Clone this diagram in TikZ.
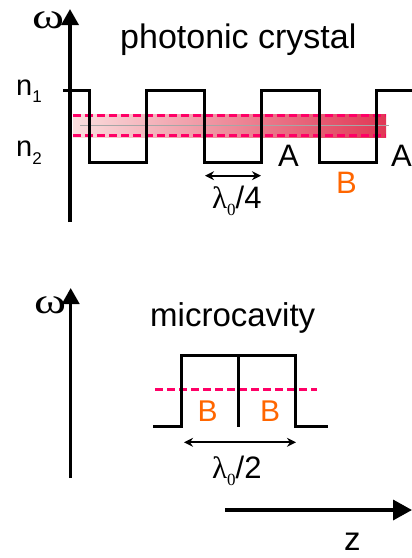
\documentclass[tikz,border=0pt]{standalone}
\usepackage{fontspec}
\setmainfont{Liberation Sans}
\newfontfamily\grk{Liberation Serif}
\usetikzlibrary{arrows.meta}
\definecolor{pinkdash}{RGB}{255,0,102}
\definecolor{bor}{RGB}{255,102,0}
\definecolor{bandL}{RGB}{250,222,222}
\definecolor{bandR}{RGB}{225,55,85}
\tikzset{
 lbl/.style={inner sep=0pt, anchor=base west},
 big/.style={font=\fontsize{34}{40}\selectfont},
 mid/.style={font=\fontsize{31}{36}\selectfont},
 omg/.style={font=\grk\fontsize{36}{40}\selectfont},
 axisline/.style={line width=3.5pt, -{Triangle[length=16pt,width=17pt]}},
 wave/.style={line width=3pt},
 level/.style={pinkdash, line width=3pt, dash pattern=on 8pt off 4pt},
 dimline/.style={line width=2pt, {Stealth[length=9pt,width=9pt]}-{Stealth[length=9pt,width=9pt]}},
}
\newcommand{\sub}[2]{\raisebox{#1}{\fontsize{17}{20}\selectfont #2}}
\newcommand{\wideomega}{\scalebox{1.35}[1]{ω}}
\begin{document}
\begin{tikzpicture}[x=1pt,y=-1pt]
\useasboundingbox (0,0) rectangle (412,558);
% ---------- top panel ----------
\coordinate (ta0) at (70,222);
\coordinate (ta1) at (70,9);
\draw[axisline] (ta0) -- (ta1);
\node[lbl, omg] (om1) at (32,28) {\wideomega};
\node[lbl, big] (t1) at (120,48.3) {photonic crystal};
\node[lbl, font=\fontsize{29}{34}\selectfont] (n1) at (16,95) {n\sub{-7pt}{1}};
\node[lbl, font=\fontsize{29}{34}\selectfont] (n2) at (16,156.7) {n\sub{-8pt}{2}};
% band
\shade[left color=bandL, right color=bandR] (73,114) rectangle (386,137);
\coordinate (g0) at (80,125);
\coordinate (g1) at (389,125);
\draw[gray!70, line width=0.8pt] (g0) -- (g1);
\coordinate (d1a) at (73,115.7);
\coordinate (d1b) at (386,115.7);
\coordinate (d2a) at (73,135.5);
\coordinate (d2b) at (386,135.5);
\draw[level] (d1a) -- (d1b);
\draw[level] (d2a) -- (d2b);
% square wave
\draw[wave] (63,90) -- (89,90) -- (89,162) -- (146.5,162) -- (146.5,90) -- (204,90) -- (204,162)
  -- (261.5,162) -- (261.5,90) -- (319,90) -- (319,162) -- (376.5,162) -- (376.5,90) -- (414,90);
\node[lbl, mid] (A1) at (278,166.7) {A};
\node[lbl, mid] (A2) at (391,166.7) {A};
\node[lbl, mid, text=bor] (B1) at (336,193.3) {B};
\coordinate (q0) at (205,175.7);
\coordinate (q1) at (261,175.7);
\draw[dimline] (q0) -- (q1);
\node[lbl, font=\fontsize{31}{36}\selectfont] (lq) at (212,208.3) {{\grk λ}{\grk\sub{-7pt}{0}}/4};
% ---------- bottom panel ----------
\coordinate (ba0) at (70.7,478);
\coordinate (ba1) at (70.7,288);
\draw[axisline] (ba0) -- (ba1);
\node[lbl, omg] (om2) at (34,313) {\wideomega};
\node[lbl, font=\fontsize{33}{40}\selectfont] (t2) at (150,326.7) {microcavity};
\coordinate (dc0) at (155,389);
\coordinate (dc1) at (317,389);
\draw[level] (dc0) -- (dc1);
\draw[wave] (153,426.7) -- (181.7,426.7) -- (181.7,355) -- (295,355) -- (295,426.7) -- (328.3,426.7);
\coordinate (m0) at (238.3,355);
\coordinate (m1) at (238.3,426.7);
\draw[wave] (m0) -- (m1);
\node[lbl, font=\fontsize{30}{36}\selectfont, text=bor] (B2) at (197.5,421.7) {B};
\node[lbl, font=\fontsize{30}{36}\selectfont, text=bor] (B3) at (260,421.7) {B};
\coordinate (h0) at (184,442.3);
\coordinate (h1) at (296,442.3);
\draw[dimline] (h0) -- (h1);
\node[lbl, font=\fontsize{31}{36}\selectfont] (lh) at (212,478.3) {{\grk λ}{\grk\sub{-7pt}{0}}/2};
\coordinate (z0) at (225,510);
\coordinate (z1) at (412,510);
\draw[line width=3.5pt, -{Triangle[length=19pt,width=20pt]}] (z0) -- (z1);
\node[lbl, font=\fontsize{33}{40}\selectfont] (zl) at (344,550) {z};
\end{tikzpicture}
\end{document}
